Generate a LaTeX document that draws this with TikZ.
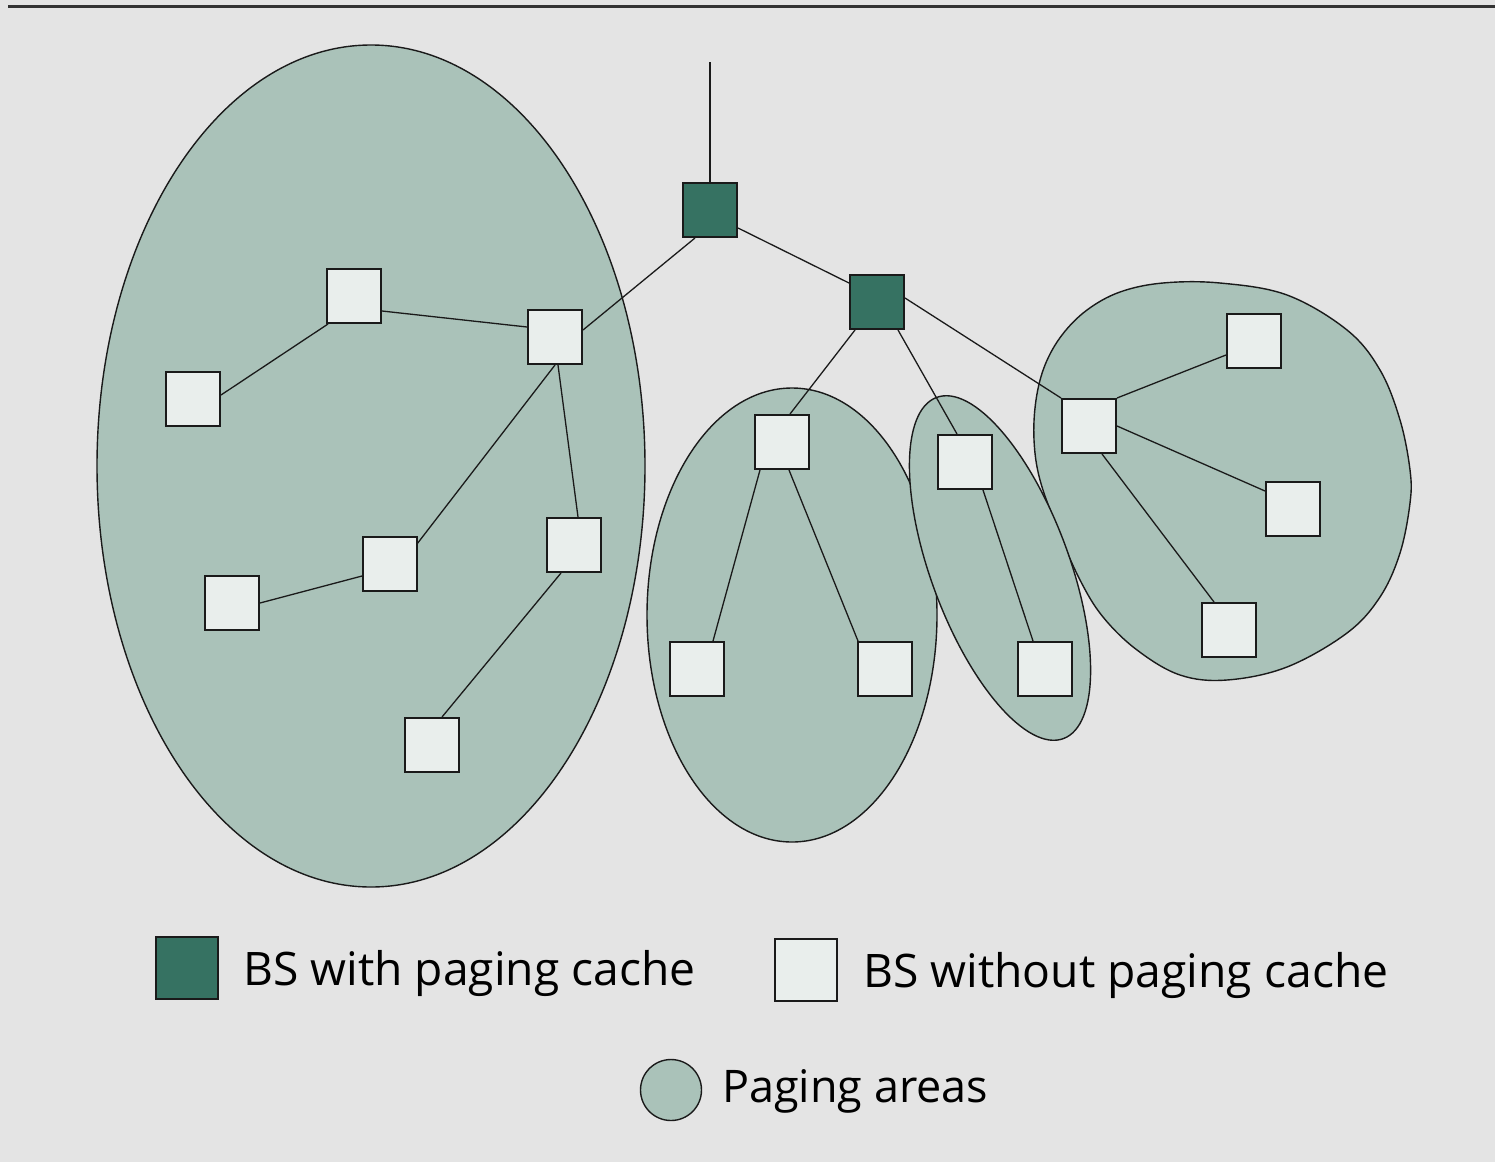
\documentclass[tikz,border=0pt]{standalone}
\usepackage{fontspec}
\newfontfamily\lgfont{Open Sans}
\usetikzlibrary{calc}
\definecolor{bgc}{HTML}{E4E4E4}
\definecolor{areac}{HTML}{AAC2B9}
\definecolor{darkc}{HTML}{367262}
\definecolor{lightc}{HTML}{E9EEEC}
\definecolor{inkc}{HTML}{1A1A1A}
\definecolor{rulec}{HTML}{333333}
\begin{document}
\begin{tikzpicture}[x=1pt,y=-1pt,
  area/.style={fill=areac, draw=inkc, line width=1.4pt},
  bsdark/.style={rectangle, draw=inkc, fill=darkc, minimum size=54pt, inner sep=0pt, line width=2pt},
  bslight/.style={rectangle, draw=inkc, fill=lightc, minimum size=54pt, inner sep=0pt, line width=2pt},
  link/.style={draw=inkc, line width=1.3pt},
  legtext/.style={anchor=base west, inner sep=0pt, font=\lgfont}]
\fill[bgc] (0,0) rectangle (1495,1162);
\useasboundingbox (0,0) rectangle (1495,1162);
\draw[rulec, line width=3pt] (8,6) -- (1495,6);

% paging areas
\draw[area] (371,466) ellipse [x radius=274, y radius=421];
\draw[area] (792,615) ellipse [x radius=145, y radius=227];
\draw[area] plot[smooth cycle, tension=0.6] coordinates {
  (1163,283) (1220,283) (1287,295) (1347,330) (1380,370) (1400,420)
  (1410,470) (1410,503) (1400,553) (1380,597) (1347,633) (1287,667)
  (1227,680) (1180,675) (1137,650) (1103,617) (1080,580) (1058,530)
  (1040,480) (1034,440) (1036,400) (1045,365) (1062,335) (1087,310) (1120,292)};
\begin{scope}[shift={(1000,568)}, rotate=20.4]
  \draw[area] (0,0) ellipse [x radius=69, y radius=182];
\end{scope}

% base stations
\node[bsdark] (A) at (710,210) {};
\node[bsdark] (B) at (877,302) {};
\node[bslight] (L1) at (354,296) {};
\node[bslight] (L2) at (193,399) {};
\node[bslight] (L3) at (555,337) {};
\node[bslight] (L4) at (390,564) {};
\node[bslight] (L5) at (232,603) {};
\node[bslight] (L6) at (574,545) {};
\node[bslight] (L7) at (432,745) {};
\node[bslight] (M1) at (782,442) {};
\node[bslight] (M2) at (697,669) {};
\node[bslight] (M3) at (885,669) {};
\node[bslight] (N1) at (965,462) {};
\node[bslight] (N2) at (1045,669) {};
\node[bslight] (R1) at (1089,426) {};
\node[bslight] (R2) at (1254,341) {};
\node[bslight] (R3) at (1293,509) {};
\node[bslight] (R4) at (1229,630) {};
\coordinate (T) at (710,62);

% links
\draw[link] (A.north) -- (T);
\draw[link] ($(A)+(-15,28)$) -- ($(L3)+(28,-7)$);
\draw[link] ($(A)+(28,18)$) -- ($(B)+(-28,-19)$);
\draw[link] ($(B)+(-22,28)$) -- ($(M1)+(8,-28)$);
\draw[link] ($(B)+(21,28)$) -- ($(N1)+(-8,-28)$);
\draw[link] ($(B)+(28,-4)$) -- ($(R1)+(-28,-28)$);
\draw[link] ($(L1)+(28,15)$) -- ($(L3)+(-28,-10)$);
\draw[link] ($(L2)+(28,-4)$) -- ($(L1)+(-26,28)$);
\draw[link] ($(L3)+(0,28)$) -- ($(L4)+(27,-20)$);
\draw[link] ($(L3)+(3,28)$) -- ($(L6)+(4,-28)$);
\draw[link] ($(L5)+(28,0)$) -- ($(L4)+(-28,12)$);
\draw[link] ($(L6)+(-13,28)$) -- ($(L7)+(10,-28)$);
\draw[link] ($(M1)+(-22,28)$) -- ($(M2)+(16,-28)$);
\draw[link] ($(M1)+(7,28)$) -- ($(M3)+(-27,-28)$);
\draw[link] ($(N1)+(18,28)$) -- ($(N2)+(-12,-28)$);
\draw[link] ($(R1)+(28,-28)$) -- ($(R2)+(-28,14)$);
\draw[link] ($(R1)+(28,0)$) -- ($(R3)+(-28,-18)$);
\draw[link] ($(R1)+(13,28)$) -- ($(R4)+(-15,-28)$);

% legend
\node[bsdark, minimum size=62pt, line width=1.6pt] (LD) at (187,968) {};
\node[legtext] (LDt) at (243,985) {\resizebox{452pt}{!}{BS with paging cache}};
\node[bslight, minimum size=62pt, line width=1.6pt] (LL) at (806,970) {};
\node[legtext] (LLt) at (863,987) {\resizebox{525pt}{!}{BS without paging cache}};
\node[area, circle, minimum size=61pt, inner sep=0pt] (LC) at (671,1090) {};
\node[legtext] (LCt) at (722,1102) {\resizebox{266pt}{!}{Paging areas}};
\end{tikzpicture}
\end{document}
